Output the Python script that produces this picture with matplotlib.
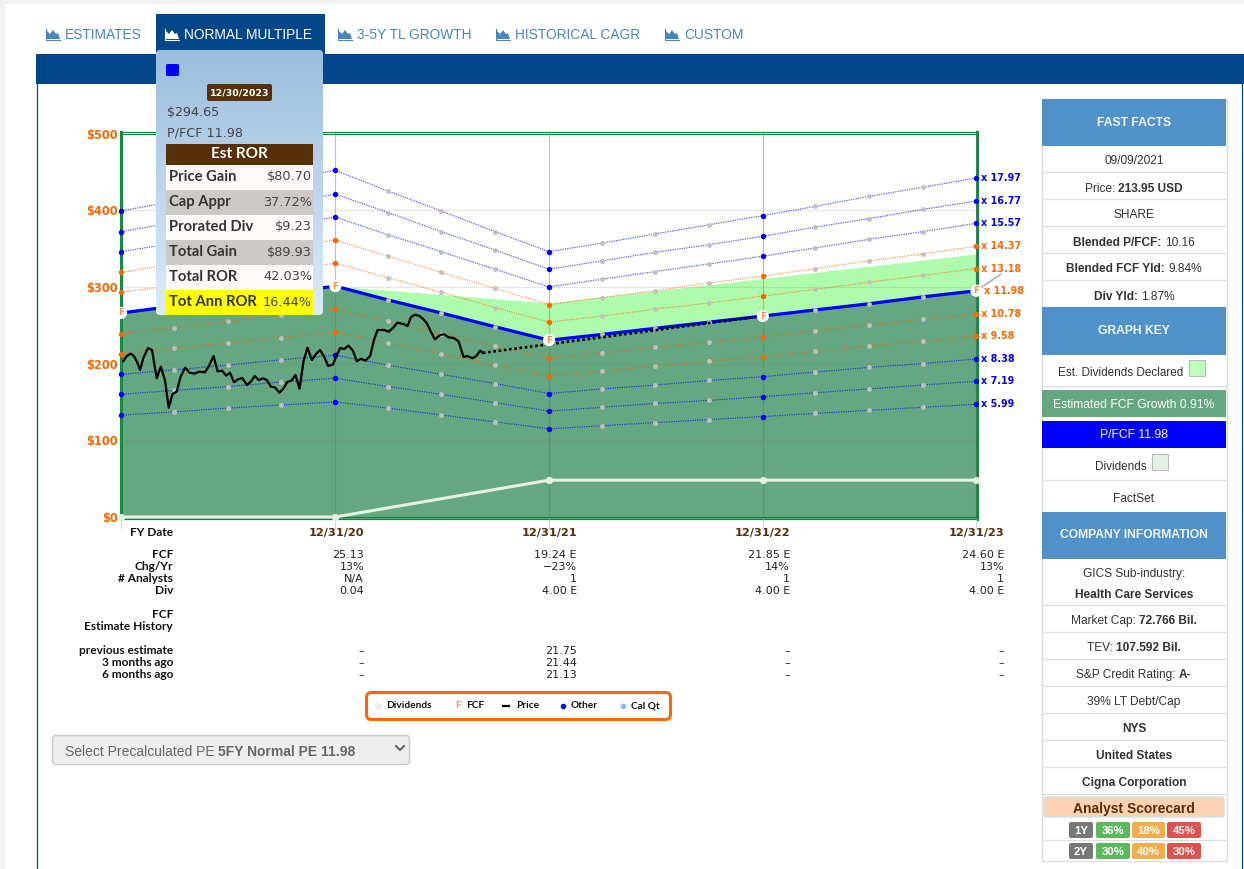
import matplotlib
matplotlib.use("Agg")
import numpy as np
import pandas as pd
import matplotlib.pyplot as plt
from matplotlib.patches import Rectangle, FancyBboxPatch, Polygon

W, H = 1244, 869
UI = "Liberation Sans"
CH = "DejaVu Sans"
LB = "Lato"
BLUE = "#0000ff"
ORANGE = "#ff6600"
BROWN = "#553008"

# datos de la grafica (una fila por multiplo, 17 fechas trimestrales)
quarter_dates = pd.date_range("2019-12-31", "2023-12-31", freq="QE")
fy_idx = [0, 4, 8, 12, 16]
multiples = ["17.97", "16.77", "15.57", "14.37", "13.18", "10.78", "9.58", "8.38", "7.19", "5.99"]
multiple_colors = [BLUE, BLUE, BLUE, ORANGE, ORANGE, ORANGE, ORANGE, BLUE, BLUE, BLUE]
line_1797 = [399, 412, 425, 439, 452, 425, 399, 372, 346, 357, 369, 381, 393, 405, 418, 430, 442]
line_1677 = [372, 384, 397, 409, 421, 397, 372, 348, 323, 334, 345, 355, 366, 378, 389, 401, 412]
line_1557 = [346, 357, 369, 380, 391, 368, 346, 323, 300, 310, 320, 330, 340, 351, 362, 372, 383]
line_1437 = [319, 330, 340, 351, 361, 340, 319, 298, 277, 286, 295, 305, 314, 324, 334, 343, 353]
line_1318 = [293, 302, 312, 321, 331, 312, 293, 273, 254, 262, 271, 279, 288, 297, 306, 315, 324]
line_1078 = [239, 247, 255, 263, 271, 255, 239, 223, 207, 214, 221, 228, 235, 243, 250, 258, 265]
line_958 = [213, 220, 227, 234, 241, 227, 213, 198, 184, 190, 197, 203, 209, 216, 223, 229, 236]
line_838 = [186, 192, 198, 205, 211, 198, 186, 174, 161, 167, 172, 178, 183, 189, 195, 200, 206]
line_719 = [160, 165, 170, 176, 181, 170, 160, 149, 138, 143, 148, 152, 157, 162, 167, 172, 177]
line_599 = [133, 137, 142, 146, 150, 142, 133, 124, 115, 119, 123, 127, 131, 135, 139, 143, 147]
multiple_lines = [line_1797, line_1677, line_1557, line_1437, line_1318,
                  line_1078, line_958, line_838, line_719, line_599]
fcf_line = [266, 275, 284, 292, 301, 283, 266, 248, 230.5, 238, 246, 254, 262, 270, 278, 287, 295]
band_dates = pd.to_datetime(["2020-12-31", "2021-12-31", "2022-12-31", "2023-12-31"])
band_top = [301, 279, 311, 343]
band_base = [301, 230.5, 262, 295]
fy_dates = pd.to_datetime(["2019-12-31", "2020-12-31", "2021-12-31", "2022-12-31", "2023-12-31"])
fy_fcf = [266, 301, 230.5, 262, 295]
dividends = [0, 0, 48, 48, 48]
price = [203.4, 209.9, 213, 209.9, 201.2, 191.7, 206.9, 220.3, 217.7, 180.8, 196, 178.6, 142.5,
         160.4, 163.4, 183, 194.7, 188.2, 186.9, 189.5, 188.6, 198.2, 209.9, 189.9, 190.8, 184.3,
         188.2, 175.6, 179.5, 181.2, 172.1, 176.4, 183.8, 178.6, 180.8, 178.6, 169.9, 169.1, 162.1,
         167.3, 176, 177.8, 185.1, 167.3, 202.5, 220.8, 204.7, 212.5, 217.7, 209, 196.9, 198.6,
         209, 220.3, 219, 223.4, 216.9, 203, 206.4, 203.8, 209.9, 231.6, 243.8, 243.8, 241.6,
         247.3, 253.4, 251.6, 249, 260.3, 263.8, 262.1, 257.7, 252.5, 241.6, 231.6, 237.3, 238.2,
         234.2, 233.4, 229, 208.6, 209.9, 206.9, 209.9, 216.9, 213.95]
# dias desde 12/31/19 de cada precio
price_days = [4, 10, 16.5, 22, 28, 32.5, 38, 46, 53, 61, 68, 75, 81.5, 88, 95, 102, 109.5, 117, 125,
              134, 143.5, 151, 158, 165, 172.6, 179.5, 186, 193, 200, 207, 215, 221.6, 228.5, 235,
              242, 249, 256, 262.6, 270.6, 277.4, 284, 291, 298, 305, 311.6, 318.4, 326, 333, 340,
              347, 353.8, 361.8, 367.4, 374.3, 381, 388.5, 396, 402.7, 409.6, 417.5, 425.5, 432.4,
              438, 449.4, 457.4, 465.4, 472, 482.5, 489.3, 495, 501.8, 509.8, 516.6, 522.4, 529.2,
              536, 545, 552, 559.4, 568, 576.5, 585, 592, 600, 606.7, 613.5, 618]
price_dates = pd.Timestamp("2019-12-31") + pd.to_timedelta(price_days, unit="D")
proj_dates = pd.to_datetime(["2021-09-09", "2022-12-31"])
proj_price = [213.95, 262]

# textos de las tablas
tabs = ["ESTIMATES", "NORMAL MULTIPLE", "3-5Y TL GROWTH", "HISTORICAL CAGR", "CUSTOM"]
table_cols = ["12/31/20", "12/31/21", "12/31/22", "12/31/23"]
row_labels = ["FCF", "Chg/Yr", "# Analysts", "Div", "previous estimate", "3 months ago", "6 months ago"]
row_fcf = ["25.13", "19.24 E", "21.85 E", "24.60 E"]
row_chg = ["13%", "\u221223%", "14%", "13%"]
row_analysts = ["N/A", "1", "1", "1"]
row_div = ["0.04", "4.00 E", "4.00 E", "4.00 E"]
row_prev = ["\u2013", "21.75", "\u2013", "\u2013"]
row_3m = ["\u2013", "21.44", "\u2013", "\u2013"]
row_6m = ["\u2013", "21.13", "\u2013", "\u2013"]
ror_labels = ["Price Gain", "Cap Appr", "Prorated Div", "Total Gain", "Total ROR", "Tot Ann ROR"]
ror_values = ["$80.70", "37.72%", "$9.23", "$89.93", "42.03%", "16.44%"]

fig = plt.figure(figsize=(W / 100, H / 100), dpi=100, facecolor="#f1f1f1")


def px_axes(z):
    a = fig.add_axes([0, 0, 1, 1], zorder=z)
    a.set_xlim(0, W)
    a.set_ylim(H, 0)
    a.axis("off")
    return a


def box(a, x0, y0, x1, y1, fc, ec="none", lw=0, z=1):
    a.add_patch(Rectangle((x0, y0), x1 - x0, y1 - y0, fc=fc, ec=ec, lw=lw, zorder=z))


def rbox(a, x0, y0, x1, y1, fc, ec="none", lw=0, r=3, z=1):
    p = FancyBboxPatch((x0 + r, y0 + r), x1 - x0 - 2 * r, y1 - y0 - 2 * r,
                       boxstyle=f"round,pad={r},rounding_size={r}", fc=fc, ec=ec, lw=lw, zorder=z)
    a.add_patch(p)
    return p


def mixed(a, cx, y, parts, size=8.6, color="#333333", left=None):
    # texto con partes normales y negritas, centrado en cx
    rend = fig.canvas.get_renderer()
    items = [a.text(0, y, t, family=UI, fontsize=size, weight=w, color=color, va="center_baseline", zorder=5)
             for t, w in parts]
    widths = [i.get_window_extent(rend).width for i in items]
    x = left if left is not None else cx - sum(widths) / 2
    for it, wd in zip(items, widths):
        it.set_x(x)
        x += wd


page = px_axes(0)
box(page, 5, 4, W, H, "white")

# pestañas
tab_x = [65, 184, 357, 515, 684]
box(page, 156, 14, 325, 56, "#03468a")
box(page, 36, 54, W, 84, "#03468a")
page.plot([36.5, 36.5], [84, H], color="#03468a", lw=0.9)
page.plot([1242, 1242], [84, H], color="#03468a", lw=0.9)
for i, (t, x) in enumerate(zip(tabs, tab_x)):
    c = "white" if i == 1 else "#4a86bd"
    page.text(x, 33.5, t, family=UI, fontsize=9.9, color=c, va="center_baseline")
    ico = [(x - 18, 39), (x - 18, 31), (x - 15, 34), (x - 12, 30), (x - 9, 34), (x - 7, 33), (x - 5, 39)]
    page.add_patch(Polygon(ico, closed=True, fc=c, ec="none"))
    page.plot([x - 19.5, x - 19.5, x - 5], [29, 39.5, 39.5], color=c, lw=0.8)

# grafica principal
ax = fig.add_axes([121 / W, 1 - 518.5 / H, (976.5 - 121) / W, (518.5 - 132) / H], zorder=1)
ax.set_xlim(quarter_dates[0], quarter_dates[-1])
ax.set_ylim(-2, 502)
ax.fill_between(band_dates, band_base, band_top, color="#aefbab", lw=0, zorder=1)
ax.fill_between(quarter_dates, -2, fcf_line, color="#64a780", lw=0, zorder=1.2)
ax.set_axisbelow(False)
ax.set_yticks([0, 100, 200, 300, 400, 500])
ax.set_yticklabels([f"${v}" for v in [0, 100, 200, 300, 400, 500]], color=ORANGE,
                   fontsize=8.3, family=CH, weight="bold")
ax.set_xticks(fy_dates)
ax.set_xticklabels([])
ax.tick_params(axis="y", length=0, pad=2)
ax.tick_params(axis="x", length=7, color="#ccd6eb", width=0.8)
ax.grid(axis="y", color="#808080", alpha=0.2, lw=0.9)
ax.grid(axis="x", color="#707070", alpha=0.45, lw=0.8)
for s in ["left", "right"]:
    ax.spines[s].set_color("#0e8a3e")
    ax.spines[s].set_linewidth(2.2)
for s in ["top", "bottom"]:
    ax.spines[s].set_color("#0e8a3e")
    ax.spines[s].set_linewidth(0.9)
ax.axhline(500, color="#0e8a3e", lw=0.8, zorder=2.6)
ax.axhline(-0.3, color="#0e8a3e", lw=0.8, zorder=2.6)

grey_idx = [i for i in range(len(quarter_dates)) if i not in fy_idx]
for vals, col, lab in zip(multiple_lines, multiple_colors, multiples):
    ax.plot(quarter_dates, vals, ls=(0, (1, 1)), color=col, lw=0.85, alpha=0.7, zorder=3)
    ax.plot(quarter_dates[grey_idx], np.array(vals)[grey_idx], ls="none", marker="o", ms=2.5,
            color="#c0c0c0", zorder=3.2)
    ax.plot(quarter_dates[fy_idx], np.array(vals)[fy_idx], ls="none", marker="o", ms=2.9,
            color=col, zorder=3.3, clip_on=False)
    ax.annotate("x " + lab, (quarter_dates[-1], vals[-1]), xytext=(3.5, 0), textcoords="offset points",
                color=col, fontsize=6.9, family=CH, weight="bold", va="center", annotation_clip=False)

ax.plot(quarter_dates, fcf_line, color=BLUE, lw=2.3, zorder=4, solid_capstyle="butt")
ax.plot(quarter_dates[grey_idx], np.array(fcf_line)[grey_idx], ls="none", marker="o", ms=2.5,
        color="#c0c0c0", zorder=4.1)
ax.plot(fy_dates, dividends, color="#e6f1e2", lw=2.2, marker="o", ms=4.2, zorder=4.2, clip_on=False)
ax.plot(price_dates, price, color="black", lw=1.6, zorder=5)
ax.plot(proj_dates, proj_price, color="black", lw=1.9, ls=(0, (1, 1)), zorder=5)
for d, v in zip(fy_dates, fy_fcf):
    ax.text(d, v, "F", color="#ff8c50", fontsize=6.4, weight="bold", family=CH, ha="center", va="center",
            zorder=6, clip_on=False, bbox=dict(boxstyle="circle,pad=0.18", fc="white", ec="none"))
ax.annotate("x 11.98", (quarter_dates[-1], fcf_line[-1]), xytext=(5.5, 0), textcoords="offset points",
            color=ORANGE, fontsize=6.9, family=CH, weight="bold", va="center", annotation_clip=False)
ax.annotate("", (quarter_dates[-1], fcf_line[-1]), xytext=(19, 13), textcoords="offset points",
            arrowprops=dict(arrowstyle="-", color="#b0b0b0", lw=1.2), annotation_clip=False)

# tabla inferior
col_x = [364, 577, 790, 1004]
page.text(173, 533, "FY Date", family=LB, fontsize=8.6, weight="bold", color="#111111", ha="right", va="center")
for x, t in zip(col_x, table_cols):
    page.text(x, 533, t, family=CH, fontsize=8.2, weight="bold", color=BROWN, ha="right", va="center")
row_y = [555, 567, 579, 591, 651, 663, 675]
row_vals = [row_fcf, row_chg, row_analysts, row_div, row_prev, row_3m, row_6m]
for y, lab, vals in zip(row_y, row_labels, row_vals):
    page.text(173, y, lab, family=LB, fontsize=8.6, weight="bold", color="#111111", ha="right", va="center")
    for x, v in zip(col_x, vals):
        page.text(x, y, v, family=CH, fontsize=8, color="#222222", ha="right", va="center")
page.text(173, 615, "FCF", family=LB, fontsize=8.6, weight="bold", color="#111111", ha="right", va="center")
page.text(173, 627, "Estimate History", family=LB, fontsize=8.6, weight="bold", color="#111111", ha="right", va="center")

# leyenda
rbox(page, 366.5, 692.5, 670.5, 719.5, "white", ec=ORANGE, lw=2.2, r=5)
for x, t in zip([386, 466, 516, 571, 631], ["Dividends", "FCF", "Price", "Other", "Cal Qt"]):
    page.text(x, 705.5, t, family=LB, fontsize=7.3, weight="bold", color="#111111", va="center")
page.plot(378, 706, marker="o", ms=4, color="#e6f1e2")
page.text(458, 706, "F", family=CH, fontsize=6, weight="bold", color="#ff9a6a", ha="center", va="center")
page.plot([503, 509], [705.5, 705.5], color="black", lw=1.6)
page.plot(563, 706, marker="o", ms=3, color=BLUE)
page.plot(623, 706, marker="o", ms=3, color="#8fbce6")

# selector
rbox(page, 52.5, 735.5, 409.5, 764.5, "#eeeeee", ec="#c8c8c8", lw=1, r=3)
mixed(page, 0, 750, [("Select Precalculated PE ", "normal"), ("5FY Normal PE 11.98", "bold")],
      size=10, color="#666666", left=65)
page.plot([396, 400, 404], [746, 750, 746], color="#555555", lw=1.3)

# panel derecho
HEAD = "#5191c9"
box(page, 1041.5, 99, 1226.5, 861, "white", ec="#dddddd", lw=1)
for y0, y1, t, yt in [(99, 146, "FAST FACTS", 121), (307, 355, "GRAPH KEY", 330), (512, 559, "COMPANY INFORMATION", 534)]:
    box(page, 1042, y0, 1226, y1, HEAD, z=2)
    page.text(1134, yt, t, family=UI, fontsize=8.7, weight="bold", color="#eef5fb", ha="center", va="center_baseline", zorder=5)
for y in [172, 199, 226, 253, 280, 307, 386, 480, 512, 605, 632, 659, 686, 713, 740, 767, 794, 840]:
    page.plot([1042, 1226], [y, y], color="#dddddd", lw=0.9, zorder=1.5)
fast_rows = [
    (159.5, [("09/09/2021", "normal")]),
    (187, [("Price: ", "normal"), ("213.95 USD", "bold")]),
    (214, [("SHARE", "normal")]),
    (241, [("Blended P/FCF: ", "bold"), ("10.16", "normal")]),
    (268, [("Blended FCF Yld: ", "bold"), ("9.84%", "normal")]),
    (295, [("Div Yld: ", "bold"), ("1.87%", "normal")]),
    (497, [("FactSet", "normal")]),
    (573, [("GICS Sub-industry:", "normal")]),
    (593, [("Health Care Services", "bold")]),
    (619.5, [("Market Cap: ", "normal"), ("72.766 Bil.", "bold")]),
    (646.5, [("TEV: ", "normal"), ("107.592 Bil.", "bold")]),
    (673.5, [("S&P Credit Rating: ", "normal"), ("A-", "bold")]),
    (700.5, [("39% LT Debt/Cap", "normal")]),
    (727.5, [("NYS", "bold")]),
    (754.5, [("United States", "bold")]),
    (781.5, [("Cigna Corporation", "bold")]),
]
for y, parts in fast_rows:
    mixed(page, 1134, y, parts)
page.text(1058, 371, "Est. Dividends Declared", family=UI, fontsize=8.5, color="#333333", va="center_baseline")
box(page, 1189, 360, 1205, 376, "#bbffbb", ec="#bbbbbb", lw=0.8, z=2)
box(page, 1042, 390, 1226, 417, "#64a780", z=2)
page.text(1134, 403, "Estimated FCF Growth 0.91%", family=UI, fontsize=8.7, color="white", ha="center", va="center_baseline", zorder=5)
box(page, 1042, 421, 1226, 448, BLUE, z=2)
page.text(1134, 434, "P/FCF 11.98", family=UI, fontsize=8.7, color="white", ha="center", va="center_baseline", zorder=5)
page.text(1095, 465, "Dividends", family=UI, fontsize=8.5, color="#333333", va="center_baseline")
box(page, 1152, 454, 1168, 470, "#e5f0e2", ec="#bbbbbb", lw=0.8, z=2)
rbox(page, 1044, 797, 1224, 817, "#fdd2b2", ec="#cfe3ea", lw=1, r=2, z=2)
page.text(1134, 807, "Analyst Scorecard", family=UI, fontsize=10, weight="bold", color=BROWN, ha="center", va="center_baseline", zorder=5)
badge_x = [(1069, 1093), (1096, 1130), (1132, 1165), (1167, 1201)]
badge_c = ["#777777", "#5cb85c", "#f0ad4e", "#d9534f"]
for (y0, y1), row in zip([(822, 838), (843, 859)], [["1Y", "36%", "18%", "45%"], ["2Y", "30%", "40%", "30%"]]):
    for (x0, x1), c, t in zip(badge_x, badge_c, row):
        rbox(page, x0, y0, x1, y1, c, r=2, z=2)
        page.text((x0 + x1) / 2, (y0 + y1) / 2, t, family=UI, fontsize=8.2, weight="bold", color="white", ha="center", va="center_baseline", zorder=5)

# tooltip
tip = px_axes(2)
frame = rbox(tip, 156, 50, 323, 315, "none", r=4)
grad = tip.imshow(np.linspace(0, 1, 256).reshape(-1, 1), extent=(156, 323, 315, 50), aspect="auto",
                  cmap=matplotlib.colors.LinearSegmentedColormap.from_list("tip", ["#9bbedc", "#dcebfb"]), zorder=0.5)
grad.set_clip_path(frame)
tip.set_xlim(0, W)
tip.set_ylim(H, 0)
rbox(tip, 166, 64, 179, 76, BLUE, r=1.5)
rbox(tip, 207, 84, 272, 101, BROWN, r=2)
tip.text(239.5, 92.5, "12/30/2023", family=CH, fontsize=6.8, weight="bold", color="white", ha="center", va="center", zorder=5)
tip.text(167, 112, "$294.65", family=CH, fontsize=9.2, color="#444444", va="center")
tip.text(167, 133, "P/FCF 11.98", family=CH, fontsize=9.2, color="#444444", va="center")
box(tip, 166, 144, 313, 165, BROWN)
tip.text(239.5, 154.5, "Est ROR", family=LB, fontsize=11, weight="bold", color="white", ha="center", va="center", zorder=5)
ror_fill = ["#fdf9f8", "#cdc9c7", "#fdf9f8", "#cdc9c7", "#fdf9f8", "#ffff00"]
for i, (lab, val, c) in enumerate(zip(ror_labels, ror_values, ror_fill)):
    y = 165 + 25 * i
    box(tip, 166, y, 313, y + 25, c)
    tip.text(169, y + 12, lab, family=LB, fontsize=10.6, weight="bold", color="#333333", va="center", zorder=5)
    tip.text(312, y + 12, val, family=CH, fontsize=9.3, color="#444444", ha="right", va="center", zorder=5)

fig.savefig("out.png", dpi=100)
